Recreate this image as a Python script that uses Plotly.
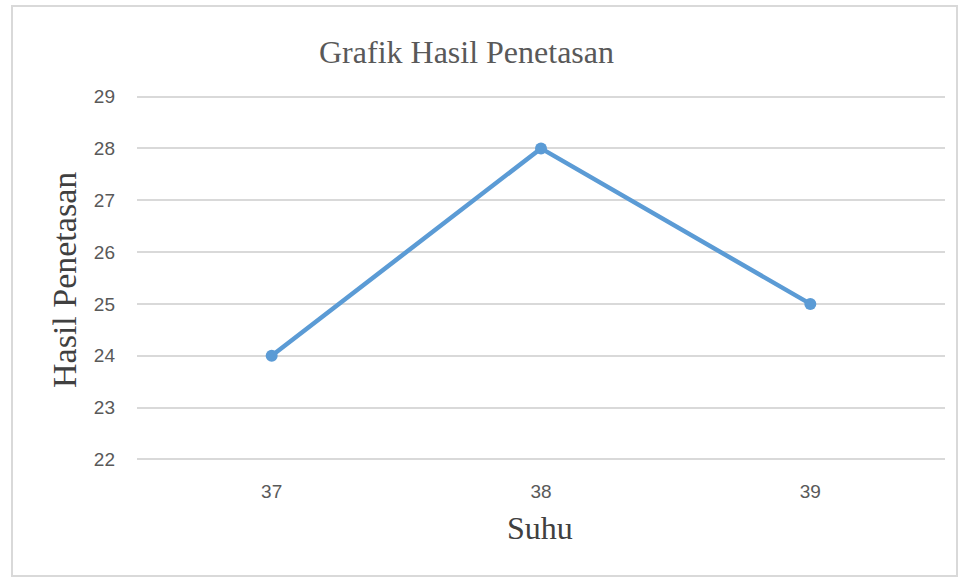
import plotly.graph_objects as go

categories = ["37", "38", "39"]
values = [24, 28, 25]
y_ticks = [22, 23, 24, 25, 26, 27, 28, 29]

title_text = "Grafik Hasil Penetasan"
x_title = "Suhu"
y_title = "Hasil Penetasan"

W, H = 970, 579
L, R, T, B = 137, 25, 95, 118
pw = W - L - R
ph = H - T - B

def px_x(px):
    return (px - L) / pw

def px_y(py):
    return (H - B - py) / ph

fig = go.Figure()
fig.add_trace(go.Scatter(
    x=categories, y=values, mode="lines+markers",
    line=dict(color="#5B9BD5", width=4.5),
    marker=dict(color="#5B9BD5", size=12),
    showlegend=False, hoverinfo="x+y",
))

tick_font = dict(family="Liberation Sans", size=19, color="#595959")

fig.update_layout(
    width=W, height=H,
    margin=dict(l=L, r=R, t=T, b=B),
    paper_bgcolor="white", plot_bgcolor="white",
    xaxis=dict(
        type="category", range=[-0.5, 2.5], showgrid=False, zeroline=False,
        showline=False, ticks="", tickfont=tick_font,
        ticklabelstandoff=17,
    ),
    yaxis=dict(
        range=[21.97, 29.03], tickvals=y_ticks, showgrid=True, gridcolor="#D9D9D9", gridwidth=1.5,
        zeroline=False, showline=False, ticks="",
        tickfont=tick_font,
        ticklabelstandoff=21,
    ),
    shapes=[dict(
        type="rect", xref="paper", yref="paper",
        x0=px_x(12), x1=px_x(957), y0=px_y(576), y1=px_y(6),
        line=dict(color="#D9D9D9", width=2), fillcolor="rgba(0,0,0,0)", layer="below",
    )],
    annotations=[
        dict(text=title_text, xref="paper", yref="paper", x=px_x(466), y=px_y(52),
             xanchor="center", yanchor="middle", showarrow=False,
             font=dict(family="Liberation Serif", size=32, color="#595959")),
        dict(text=y_title, xref="paper", yref="paper", x=px_x(64), y=px_y(280),
             xanchor="center", yanchor="middle", showarrow=False, textangle=-90,
             font=dict(family="Liberation Serif", size=34, color="#404040")),
        dict(text=x_title, xref="paper", yref="paper", x=px_x(540), y=px_y(528),
             xanchor="center", yanchor="middle", showarrow=False,
             font=dict(family="Liberation Serif", size=32, color="#404040")),
    ],
)

fig.write_html("out.html")
